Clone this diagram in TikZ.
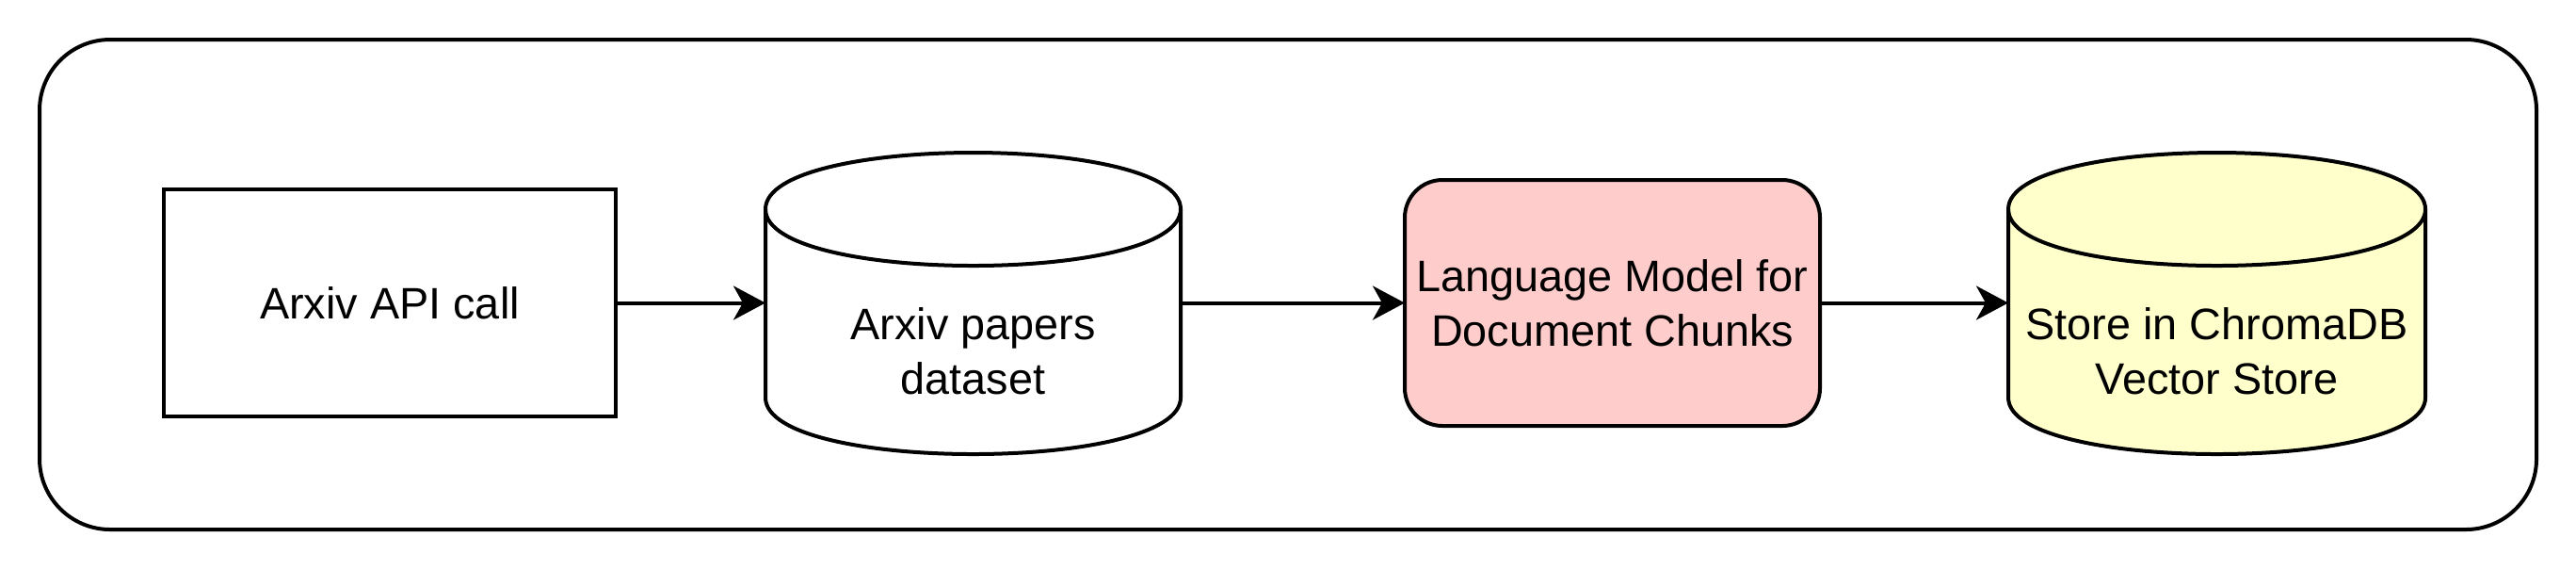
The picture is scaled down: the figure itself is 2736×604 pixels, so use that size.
\documentclass[tikz,border=0pt]{standalone}
\usepackage{fontspec}
\setmainfont{Liberation Sans}
\usetikzlibrary{arrows.meta}
\definecolor{pinkc}{HTML}{FFCCCC}
\definecolor{yellowc}{HTML}{FFFFCC}
\begin{document}
\begin{tikzpicture}[x=0.25pt,y=-0.25pt,line width=1pt,
  lbl/.style={font=\fontsize{11.7}{14.5}\selectfont, align=center, inner sep=0pt},
  arr/.style={-{Stealth[length=8.5pt,width=9pt,inset=2.5pt]}, line width=1pt},
  ghost/.style={inner sep=0pt, outer sep=0pt},
  stepbox/.style={draw, lbl, outer sep=0pt}]
\useasboundingbox (0,0) rectangle (2736,604);
% outer frame
\node[draw, rounded corners=18.75pt, minimum width=663pt, minimum height=130pt, ghost] (frame) at (1368,302) {};
% box 1
\node[stepbox, minimum width=120pt, minimum height=60.25pt] (api) at (414,321.5) {Arxiv API call};
% cylinder 1
\draw[fill=white] (813,222) -- (813,422) .. controls (813,502) and (1254,502) .. (1254,422) -- (1254,222) .. controls (1254,142) and (813,142) .. (813,222) -- cycle;
\draw (813,222) .. controls (813,302) and (1254,302) .. (1254,222);
\node[ghost, minimum width=110.25pt, minimum height=80pt] (ds) at (1033.5,322) {};
\node[lbl] (dstext) at (1033.5,373) {Arxiv papers\\dataset};
% language model
\node[stepbox, fill=pinkc, rounded corners=10pt, minimum width=110.25pt, minimum height=65.25pt] (lm) at (1712.5,321.5) {Language Model for\\Document Chunks};
% cylinder 2
\draw[fill=yellowc] (2133,222) -- (2133,422) .. controls (2133,502) and (2576,502) .. (2576,422) -- (2576,222) .. controls (2576,142) and (2133,142) .. (2133,222) -- cycle;
\draw (2133,222) .. controls (2133,302) and (2576,302) .. (2576,222);
\node[ghost, minimum width=110.75pt, minimum height=80pt] (vs) at (2354.5,322) {};
\node[lbl] (vstext) at (2354.5,373) {Store in ChromaDB\\Vector Store};
% arrows
\draw[arr] (api.east) -- (api.east -| ds.west);
\draw[arr] (lm.west -| ds.east) -- (lm.west);
\draw[arr] (lm.east) -- (lm.east -| vs.west);
\end{tikzpicture}
\end{document}
